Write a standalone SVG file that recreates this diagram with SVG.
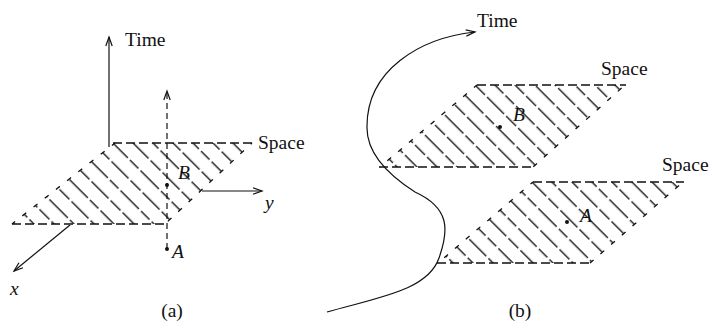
<svg xmlns="http://www.w3.org/2000/svg" width="715" height="322" viewBox="0 0 715 322">
<style>
.ln{stroke:#111;stroke-width:1.2;fill:none}
.ed{stroke:#111;stroke-width:1.3;fill:none;stroke-dasharray:9 4}
.cap{stroke:#111;stroke-width:1.3;fill:none}
.t{font-family:"Liberation Serif","Times New Roman",serif;font-size:19.5px;fill:#111}
.it{font-style:italic}
.dot{fill:#111}
</style>
<defs>
<pattern id="h" patternUnits="userSpaceOnUse" width="28.284" height="44" patternTransform="rotate(-45)">
<line x1="7.071" y1="0" x2="7.071" y2="44" stroke="#111" stroke-width="1.35" stroke-dasharray="26 3 12 3"/>
<line x1="21.213" y1="0" x2="21.213" y2="44" stroke="#111" stroke-width="1.35" stroke-dasharray="14 3 24 3"/>
</pattern>
<marker id="arr" viewBox="-10 -5 12 10" refX="0" refY="0" markerWidth="12" markerHeight="10" markerUnits="userSpaceOnUse" orient="auto" overflow="visible">
<path d="M-9,-3.2 L0,0 L-9,3.2" fill="none" stroke="#111" stroke-width="1.2"/>
</marker>
</defs>

<g id="panel-a">
<g id="plane-a">
<polygon points="115,143 252,143 165,224 12,224" fill="url(#h)"/>
<line class="ed" x1="113" y1="143" x2="256" y2="143"/>
<line class="ed" x1="12" y1="224" x2="167" y2="224"/>
<line class="cap" x1="12" y1="224" x2="115" y2="143" stroke-dasharray="5 9.24" stroke-dashoffset="1.08"/>
<line class="cap" x1="252" y1="143" x2="165" y2="224" stroke-dasharray="5 9.15" stroke-dashoffset="3.2"/>
</g>
<g id="axes-a">
<line class="ln" x1="109" y1="147" x2="109" y2="37" marker-end="url(#arr)"/>
<line class="ln" x1="202" y1="191" x2="262" y2="191" marker-end="url(#arr)"/>
<line class="ln" x1="70" y1="225" x2="14" y2="271" marker-end="url(#arr)"/>
<line class="ln" x1="167" y1="249" x2="167" y2="91" stroke-dasharray="6 4" marker-end="url(#arr)"/>
</g>
<circle class="dot" cx="167" cy="185" r="2"/>
<circle class="dot" cx="167" cy="249" r="2"/>
<text class="t" x="125" y="46">Time</text>
<text class="t" x="258" y="149">Space</text>
<text class="t it" x="178" y="179">B</text>
<text class="t it" x="172" y="258">A</text>
<text class="t it" x="265" y="209">y</text>
<text class="t it" x="10" y="295">x</text>
<text class="t" x="172" y="317" text-anchor="middle">(a)</text>
</g>

<g id="panel-b">
<g id="plane-b-top">
<polygon points="477,85 625,85 533,167 380,167" fill="url(#h)"/>
<line class="ed" x1="477" y1="85" x2="626" y2="85"/>
<line class="ed" x1="379" y1="167" x2="534" y2="167"/>
<line class="cap" x1="380" y1="167" x2="477" y2="85" stroke-dasharray="5 9.19" stroke-dashoffset="4.63"/>
<line class="cap" x1="625" y1="85" x2="533" y2="167" stroke-dasharray="5 9.16" stroke-dashoffset="9.58"/>
</g>
<g id="plane-b-bottom">
<polygon points="533,182 683,182 590,263 438,263" fill="url(#h)"/>
<line class="ed" x1="533" y1="182" x2="684" y2="182"/>
<line class="ed" x1="437" y1="263" x2="591" y2="263"/>
<line class="cap" x1="438" y1="263" x2="533" y2="182" stroke-dasharray="5 9.18" stroke-dashoffset="6.04"/>
<line class="cap" x1="683" y1="182" x2="590" y2="263" stroke-dasharray="5 9.17" stroke-dashoffset="8.88"/>
</g>
<g id="connectors">
<path class="ln" d="M327,312 C380,297 428,290 439,258 C449,230 450,208 415,192 C390,176 367,155 367,128 C366,70 420,38 475,32" marker-end="url(#arr)"/>
</g>
<circle class="dot" cx="500" cy="127" r="2"/>
<circle class="dot" cx="567" cy="222" r="2"/>
<text class="t" x="477" y="27">Time</text>
<text class="t" x="601" y="75">Space</text>
<text class="t" x="662" y="171">Space</text>
<text class="t it" x="513" y="121">B</text>
<text class="t it" x="580" y="222">A</text>
<text class="t" x="520" y="317" text-anchor="middle">(b)</text>
</g>
</svg>
